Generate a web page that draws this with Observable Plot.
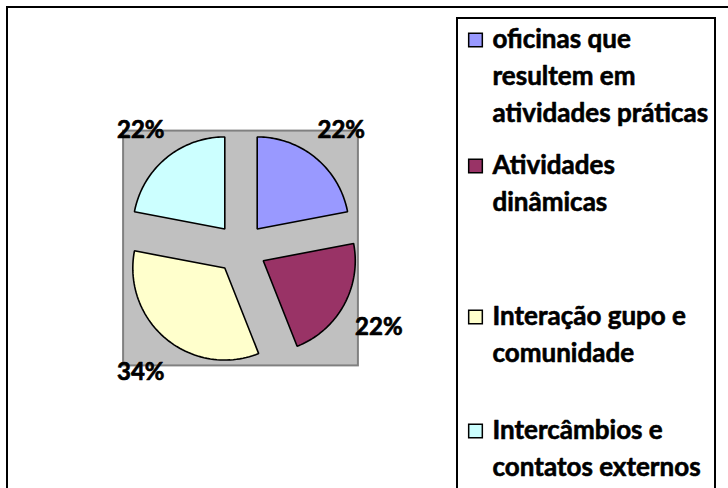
<!DOCTYPE html>
<html><head><meta charset="utf-8">
<script src="https://cdn.jsdelivr.net/npm/d3@7"></script>
<script src="https://cdn.jsdelivr.net/npm/@observablehq/plot@0.6"></script>
<style>
body{margin:0;background:#fff;}
#wrap{position:relative;width:728px;height:488px;overflow:hidden;background:#fff;}
#outer{position:absolute;left:6px;top:6px;width:900px;height:900px;border:2px solid #000;box-sizing:border-box;}
#legendbox{position:absolute;left:456px;top:17px;width:260px;height:900px;border:2px solid #000;box-sizing:border-box;}
#wrap svg{position:absolute;left:0;top:0;}
</style></head><body><div id="wrap"><div id="outer"></div><div id="legendbox"></div></div>
<script>
// ---- data ----
const categories = [
  "oficinas que\nresultem em\natividades práticas",
  "Atividades\ndinâmicas",
  "Interação gupo e\ncomunidade",
  "Intercâmbios e\ncontatos externos"
];
const values = [22, 22, 34, 22];
const colors = ["#9999ff", "#993366", "#ffffcc", "#ccffff"];

// ---- layout (pixels) ----
const W = 728, H = 488;
const CX = 240.5, CY = 248, R = 92;         // pie centre & radius
const explode = 25.4 / R;                    // explosion distance in radius units
const labelR = 1.71;
const X = px => (px - CX) / R;
const Y = py => (CY - py) / R;
const legendTextX = 492, legendSwatchX = 475;
const legendFirstLine = [39.5, 165.5, 316.5, 430.5];
const lineStep = 36.6;
const font = "Lato, 'Open Sans', sans-serif";

// ---- slices ----
const total = d3.sum(values);
let acc = 0;
const slices = values.map((v, i) => {
  const a0 = acc / total * 2 * Math.PI;
  acc += v;
  const a1 = acc / total * 2 * Math.PI;
  const am = (a0 + a1) / 2;
  const ox = explode * Math.sin(am), oy = explode * Math.cos(am);
  const pts = [{x: ox, y: oy}];
  const n = 60;
  for (let k = 0; k <= n; k++) {
    const a = a0 + (a1 - a0) * k / n;
    pts.push({x: ox + Math.sin(a), y: oy + Math.cos(a)});
  }
  return {i, v, pts, lx: labelR * Math.sin(am), ly: labelR * Math.cos(am)};
});

const sq = 1 + explode;
const legendLines = [];
const legendSwatches = [];
categories.forEach((c, i) => {
  c.split("\n").forEach((t, j) => {
    legendLines.push({x: X(legendTextX), y: Y(legendFirstLine[i] + j * lineStep), t});
  });
  legendSwatches.push({x: X(legendSwatchX), y: Y(legendFirstLine[i]), c: colors[i]});
});

const marks = [
  Plot.rect([0], {x1: -sq, x2: sq, y1: -sq, y2: sq, fill: "#c0c0c0", stroke: "#808080", strokeWidth: 2}),
  ...slices.map(s => Plot.line(s.pts, {x: "x", y: "y", curve: "linear-closed", fill: colors[s.i], stroke: "#000", strokeWidth: 1.6, strokeLinejoin: "miter"})),
  Plot.text(slices, {x: "lx", y: "ly", dy: 3, text: d => d.v + "%", fontSize: 24, fontWeight: "bold", fontFamily: font, fill: "#000", stroke: "#000", strokeWidth: 0.7}),
  Plot.dot(legendSwatches, {x: "x", y: "y", symbol: "square", r: 7.7, fill: "c", stroke: "#000", strokeWidth: 1.5}),
  Plot.text(legendLines, {x: "x", y: "y", text: "t", textAnchor: "start", fontSize: 26, fontWeight: "bold", fontFamily: font, fill: "#000", stroke: "#000", strokeWidth: 0.6})
];

const chart = Plot.plot({
  width: W, height: H,
  margin: 0,
  style: {background: "transparent", overflow: "visible"},
  x: {domain: [X(0), X(W)], axis: null},
  y: {domain: [Y(H), Y(0)], axis: null},
  marks
});
document.getElementById("wrap").appendChild(chart);
</script>
</body></html>
